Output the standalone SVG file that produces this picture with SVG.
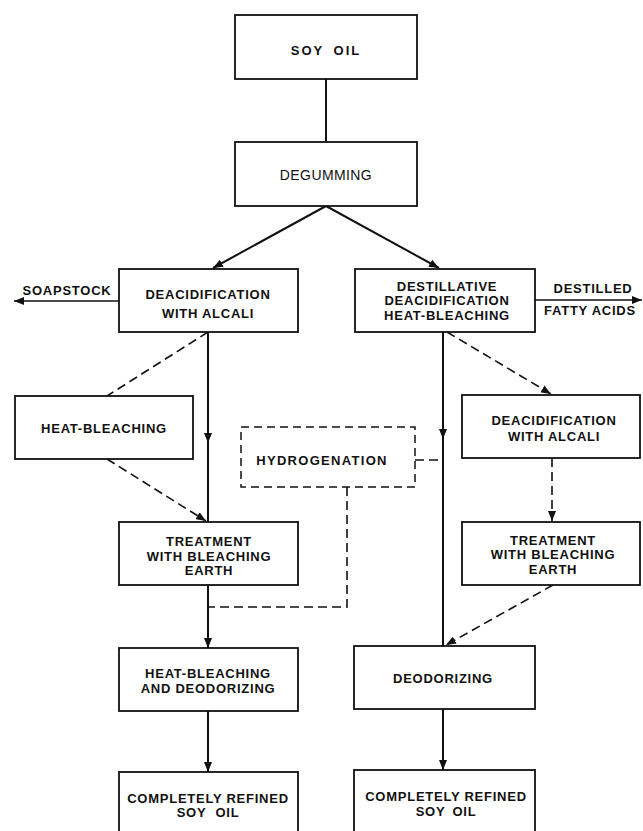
<svg xmlns="http://www.w3.org/2000/svg" width="643" height="831" viewBox="0 0 643 831">
<style>
.box{fill:#fff;stroke:#111;stroke-width:1.8}
.dbox{fill:#fff;stroke:#111;stroke-width:1.5;stroke-dasharray:8 5}
.t{font-family:"Liberation Sans",Arial,sans-serif;font-size:13px;font-weight:bold;fill:#111;text-anchor:middle;letter-spacing:0.75px}
.n{font-weight:normal}
.s{fill:none;stroke:#111;stroke-width:2}
.d{fill:none;stroke:#111;stroke-width:1.6;stroke-dasharray:9 5}
</style>
<defs>
<marker id="ah" markerUnits="userSpaceOnUse" markerWidth="10" markerHeight="8" refX="10" refY="4" orient="auto">
<path d="M0,0 L10,4 L0,8 z" fill="#111" stroke="none"/>
</marker>
</defs>
<rect width="643" height="831" fill="#fff"/>
<g id="connectors">
<line class="s" x1="326" y1="79" x2="326" y2="142"/>
<line class="s" x1="326" y1="206" x2="213" y2="268" marker-end="url(#ah)"/>
<line class="s" x1="326" y1="206" x2="439" y2="268" marker-end="url(#ah)"/>
<line class="s" x1="119" y1="301" x2="14" y2="301" marker-end="url(#ah)" style="stroke-width:1.5"/>
<line class="s" x1="535" y1="300" x2="642" y2="300" marker-end="url(#ah)" style="stroke-width:1.5"/>
<line class="s" x1="208" y1="332" x2="208" y2="443" marker-end="url(#ah)"/>
<line class="s" x1="208" y1="440" x2="208" y2="522"/>
<line class="d" x1="208" y1="332" x2="107" y2="396"/>
<line class="d" x1="107" y1="459" x2="206" y2="521" marker-end="url(#ah)"/>
<line class="s" x1="208" y1="585" x2="208" y2="648" marker-end="url(#ah)"/>
<line class="s" x1="208" y1="711" x2="208" y2="772" marker-end="url(#ah)"/>
<line class="s" x1="443" y1="332" x2="443" y2="439" marker-end="url(#ah)"/>
<line class="s" x1="443" y1="436" x2="443" y2="646"/>
<line class="d" x1="447" y1="332" x2="551" y2="394" marker-end="url(#ah)"/>
<line class="d" x1="552" y1="458" x2="552" y2="521" marker-end="url(#ah)"/>
<line class="d" x1="553" y1="585" x2="446" y2="645" marker-end="url(#ah)"/>
<line class="s" x1="443" y1="709" x2="443" y2="770" marker-end="url(#ah)"/>
<polyline class="d" points="415,460 443,460"/>
<polyline class="d" points="347,487 347,607 208,607"/>
</g>
<g id="soy-oil"><rect class="box" x="235" y="15" width="182" height="64"/><text class="t" x="326" y="55" style="letter-spacing:2px;word-spacing:4px">SOY OIL</text></g>
<g id="degumming"><rect class="box" x="235" y="142" width="182" height="64"/><text class="t n" x="326" y="180" style="font-size:14px;letter-spacing:0.4px">DEGUMMING</text></g>
<g id="deacid-left"><rect class="box" x="119" y="269" width="179" height="63"/><text class="t" x="208" y="299">DEACIDIFICATION</text><text class="t" x="208" y="318">WITH ALCALI</text></g>
<g id="soapstock"><text class="t" x="67" y="295">SOAPSTOCK</text></g>
<g id="destillative"><rect class="box" x="355" y="269" width="180" height="63"/><text class="t" x="447" y="291">DESTILLATIVE</text><text class="t" x="447" y="305">DEACIDIFICATION</text><text class="t" x="447" y="320">HEAT-BLEACHING</text></g>
<g id="fatty-acids"><text class="t" x="593" y="293">DESTILLED</text><text class="t" x="590" y="315">FATTY ACIDS</text></g>
<g id="heat-bleaching"><rect class="box" x="15" y="396" width="178" height="63"/><text class="t" x="104" y="433">HEAT-BLEACHING</text></g>
<g id="hydrogenation"><rect class="dbox" x="241" y="427" width="174" height="60"/><text class="t" x="322" y="465" style="letter-spacing:1.3px">HYDROGENATION</text></g>
<g id="deacid-right"><rect class="box" x="462" y="395" width="178" height="63"/><text class="t" x="554" y="425">DEACIDIFICATION</text><text class="t" x="554" y="441">WITH ALCALI</text></g>
<g id="treatment-left"><rect class="box" x="119" y="522" width="179" height="63"/><text class="t" x="209" y="546">TREATMENT</text><text class="t" x="209" y="561">WITH BLEACHING</text><text class="t" x="209" y="575">EARTH</text></g>
<g id="treatment-right"><rect class="box" x="462" y="522" width="178" height="63"/><text class="t" x="553" y="545">TREATMENT</text><text class="t" x="553" y="559">WITH BLEACHING</text><text class="t" x="553" y="574">EARTH</text></g>
<g id="heat-bleach-deodorize"><rect class="box" x="119" y="648" width="179" height="63"/><text class="t" x="208" y="678">HEAT-BLEACHING</text><text class="t" x="208" y="693">AND DEODORIZING</text></g>
<g id="deodorizing"><rect class="box" x="354" y="646" width="181" height="63"/><text class="t" x="443" y="683">DEODORIZING</text></g>
<g id="refined-left"><rect class="box" x="119" y="772" width="179" height="62"/><text class="t" x="208" y="803">COMPLETELY REFINED</text><text class="t" x="208" y="817" style="word-spacing:5px">SOY OIL</text></g>
<g id="refined-right"><rect class="box" x="354" y="770" width="181" height="64"/><text class="t" x="446" y="801">COMPLETELY REFINED</text><text class="t" x="446" y="816" style="word-spacing:3px">SOY OIL</text></g>
</svg>
